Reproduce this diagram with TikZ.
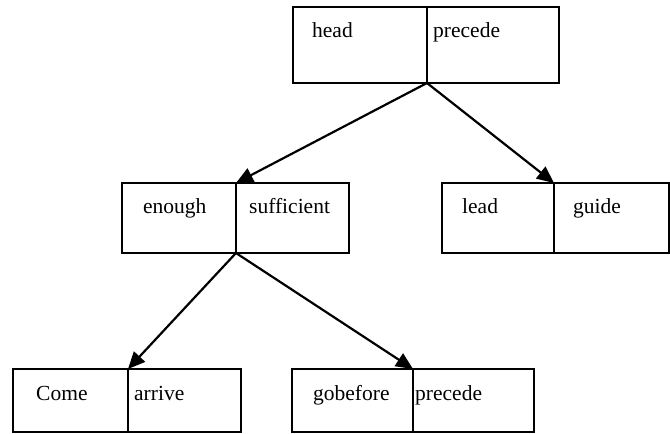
\documentclass[tikz,border=0pt]{standalone}
\usepackage{fontspec}
\setmainfont{Liberation Serif}
\usepackage{tikz}
\usetikzlibrary{arrows.meta}

\tikzset{
	cell/.style={draw, line width=1.6pt, anchor=north west, inner sep=0pt, outer sep=0pt},
	word/.style={anchor=base west, inner sep=0pt, font=\fontsize{21.5}{24}\selectfont},
	arr/.style={line width=2.2pt, -{Triangle[length=17pt,width=15pt]}}
}

\begin{document}
\begin{tikzpicture}[x=1pt,y=-1pt]
			\useasboundingbox (0,0) rectangle (670,434);
			% root
			\node[cell, minimum width=134pt, minimum height=76pt] (headL) at (293,7) {};
			\node[cell, minimum width=132pt, minimum height=76pt] (headR) at (427,7) {};
			\node[word] (headT) at (312,37) {head};
			\node[word] (precT) at (433,37) {precede};
			% second row
			\node[cell, minimum width=114pt, minimum height=70pt] (enoL) at (122,183) {};
			\node[cell, minimum width=113pt, minimum height=70pt] (enoR) at (236,183) {};
			\node[word] (enoT) at (143,213) {enough};
			\node[word] (sufT) at (249,213) {sufficient};
			\node[cell, minimum width=112pt, minimum height=70pt] (leadL) at (442,183) {};
			\node[cell, minimum width=115pt, minimum height=70pt] (leadR) at (554,183) {};
			\node[word] (leadT) at (462,213) {lead};
			\node[word] (guiT) at (573,213) {guide};
			% bottom row
			\node[cell, minimum width=115pt, minimum height=63pt] (comeL) at (13,369) {};
			\node[cell, minimum width=113pt, minimum height=63pt] (comeR) at (128,369) {};
			\node[word] (comeT) at (36,400) {Come};
			\node[word] (arrT) at (134,400) {arrive};
			\node[cell, minimum width=121pt, minimum height=63pt] (gobL) at (292,369) {};
			\node[cell, minimum width=121pt, minimum height=63pt] (gobR) at (413,369) {};
			\node[word] (gobT) at (313,400) {gobefore};
			\node[word] (prec2T) at (415,400) {precede};
			% arrows
			\draw[arr] (headL.south east) -- (enoL.north east);
			\draw[arr] (headL.south east) -- (leadL.north east);
			\draw[arr] (enoL.south east) -- (comeL.north east);
			\draw[arr] (enoL.south east) -- (gobL.north east);
\end{tikzpicture}
\end{document}
